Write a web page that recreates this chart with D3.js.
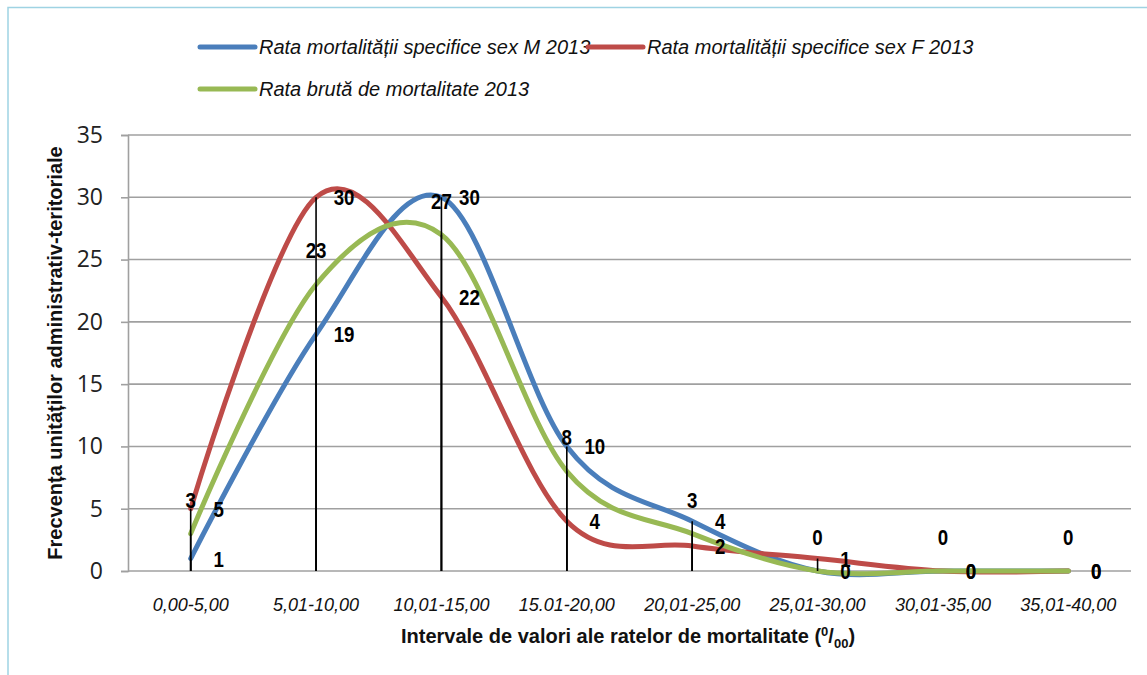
<!DOCTYPE html>
<html><head><meta charset="utf-8">
<script src="https://cdn.jsdelivr.net/npm/d3@7"></script>
<style>body{margin:0;background:#fff}</style>
</head><body><svg id="c" width="1147" height="675"></svg>
<script>
const categories = ["0,00-5,00","5,01-10,00","10,01-15,00","15.01-20,00","20,01-25,00","25,01-30,00","30,01-35,00","35,01-40,00"];
const seriesNames = ["Rata mortalității specifice sex M 2013","Rata mortalității specifice sex F 2013","Rata brută de mortalitate 2013"];
const valuesM = [1,19,30,10,4,0,0,0];
const valuesF = [5,30,22,4,2,1,0,0];
const valuesB = [3,23,27,8,3,0,0,0];
const yTicks = [0,5,10,15,20,25,30,35];
const colors = ["#4a7ebb","#be4b48","#98b954"];
const yTitle = "Frecvența unităților administrativ-teritoriale";

const narrow = "'Liberation Sans Narrow','Arial Narrow','Liberation Sans',Arial,sans-serif";
const svg = d3.select("#c");

// border
svg.append("path").attr("d","M8,675V7.5H1147").attr("fill","none").attr("stroke","#9fd3e3").attr("stroke-width",1.5);

const L = 128, R = 1131, T = 135, B = 571;
const x = d3.scaleBand().domain(categories).range([L,R]);
const cx = c => x(c) + x.bandwidth()/2;
const y = d3.scaleLinear().domain([0,35]).range([B,T]);

// gridlines
svg.append("g").selectAll("line").data(yTicks).join("line")
  .attr("x1",L).attr("x2",R).attr("y1",d=>y(d)).attr("y2",d=>y(d))
  .attr("stroke","#a0a0a0").attr("stroke-width",1.6);

// y axis
const ya = svg.append("g").attr("transform",`translate(${L},0)`)
  .call(d3.axisLeft(y).tickValues(yTicks).tickSize(7).tickPadding(18));
ya.select(".domain").attr("stroke","#a0a0a0").attr("stroke-width",1.6);
ya.selectAll(".tick line").attr("stroke","#a0a0a0").attr("stroke-width",1.6);
ya.selectAll("text").attr("font-family","'Open Sans',sans-serif").attr("font-size",23).attr("fill","#222");

// x axis labels
svg.append("g").selectAll("text").data(categories).join("text")
  .attr("x",d=>cx(d)).attr("y",611).attr("text-anchor","middle")
  .attr("font-family","'Liberation Sans',Arial,sans-serif").attr("font-style","italic")
  .attr("font-size",18).attr("fill","#111").text(d=>d);

// titles
svg.append("text").attr("transform",`translate(62,${(T+B)/2}) rotate(-90)`)
  .attr("text-anchor","middle").attr("font-family",narrow).attr("font-weight","bold")
  .attr("font-size",20).attr("fill","#111").text(yTitle);

const xt = svg.append("text").attr("x",628).attr("y",643).attr("text-anchor","middle")
  .attr("font-family",narrow).attr("font-weight","bold").attr("font-size",20).attr("fill","#111");
xt.append("tspan").text("Intervale de valori ale ratelor de mortalitate (");
xt.append("tspan").attr("dy",-7).attr("font-size",13).text("0");
xt.append("tspan").attr("dy",7).text("/");
xt.append("tspan").attr("dy",5).attr("font-size",13).text("00");
xt.append("tspan").attr("dy",-5).text(")");

// lines
const series = [valuesM, valuesF, valuesB];
const line = d3.line().x((d,i)=>cx(categories[i])).y(d=>y(d)).curve(d3.curveCardinal.tension(0));
series.forEach((vals,k)=>{
  svg.append("path").datum(vals).attr("d",line).attr("fill","none")
    .attr("stroke",colors[k]).attr("stroke-width",5).attr("stroke-linecap","round");
});

// drop lines
series.forEach(vals=>{
  svg.append("g").selectAll("line").data(vals).join("line")
    .attr("x1",(d,i)=>cx(categories[i])).attr("x2",(d,i)=>cx(categories[i]))
    .attr("y1",d=>y(d)).attr("y2",y(0)).attr("stroke","#000").attr("stroke-width",1.6);
});

// data labels: M and F to the right, brut above
const lab = svg.append("g").attr("font-family",narrow).attr("font-weight","bold").attr("font-size",22).attr("fill","#000");
[valuesM, valuesF].forEach(vals=>{
  lab.append("g").selectAll("text").data(vals).join("text")
    .attr("transform",(d,i)=>`translate(${cx(categories[i])+28},${y(d)+8}) scale(0.85,1)`)
    .attr("text-anchor","middle").text(d=>d);
});
lab.append("g").selectAll("text").data(valuesB).join("text")
  .attr("transform",(d,i)=>`translate(${cx(categories[i])},${y(d)-26}) scale(0.85,1)`)
  .attr("text-anchor","middle").text(d=>d);

// legend
const leg = [[0,200,47],[1,588,47],[2,200,89]];
leg.forEach(([k,lx,ly])=>{
  svg.append("line").attr("x1",lx).attr("x2",lx+55).attr("y1",ly).attr("y2",ly)
    .attr("stroke",colors[k]).attr("stroke-width",5).attr("stroke-linecap","round");
  svg.append("text").attr("x",lx+59).attr("y",ly+7).attr("font-family",narrow).attr("font-style","italic")
    .attr("font-size",20).attr("fill","#111").text(seriesNames[k]);
});
</script></body></html>
